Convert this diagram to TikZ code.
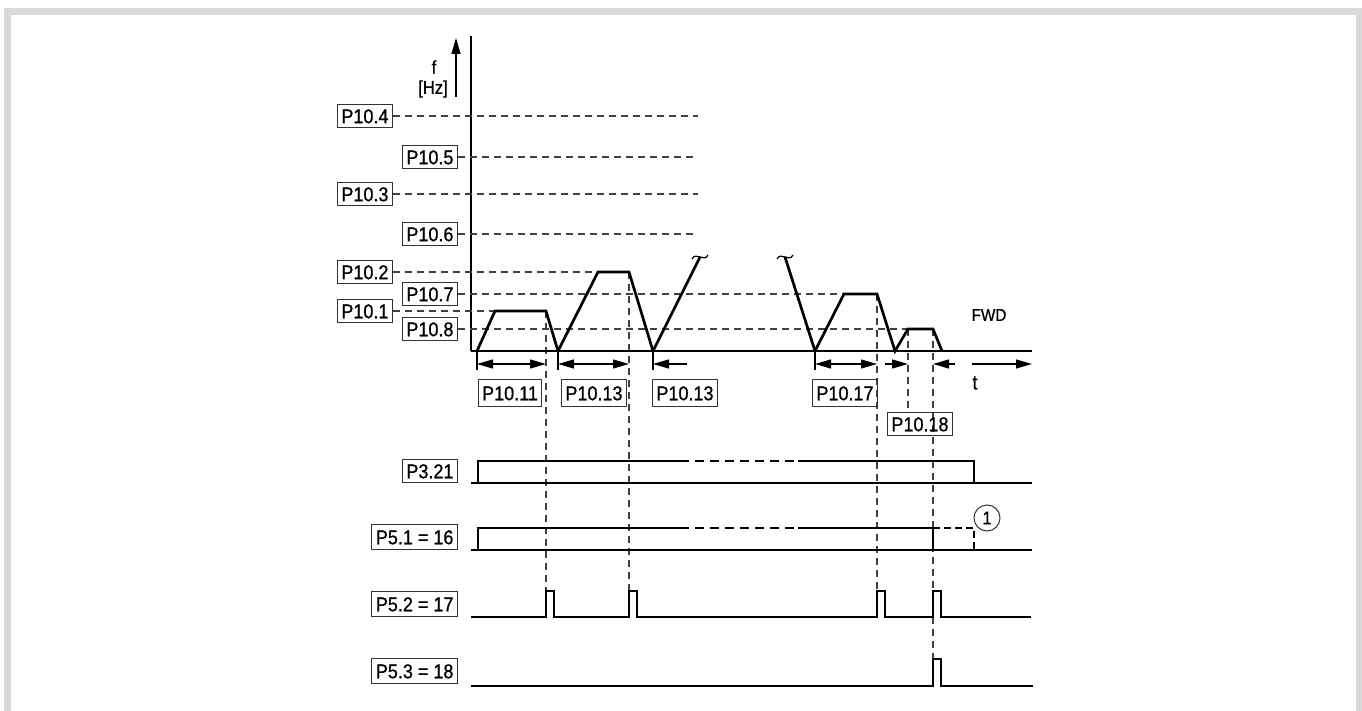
\documentclass[tikz,border=0pt]{standalone}
\usepackage{fontspec}
\setmainfont{Liberation Sans}[FakeStretch=0.9,FakeBold=0.8]
\usetikzlibrary{arrows.meta}
\definecolor{framegray}{HTML}{D9D9D9}
\begin{document}
\begin{tikzpicture}[x=1pt,y=-1pt,
  lbl/.style={draw=black!80, line width=1.1pt, inner xsep=4pt, inner ysep=4.5pt,
    text height=14.5pt, text depth=0pt, font=\fontsize{20}{20}\selectfont},
  tall/.style={inner ysep=6pt},
  mid/.style={inner ysep=5.5pt},
  sig/.style={line width=2.7pt, line join=miter, line cap=butt},
  thinl/.style={line width=1.5pt},
  ref/.style={line width=1.1pt, black!75, dash pattern=on 7pt off 5pt},
  sigdash/.style={line width=2.7pt, dash pattern=on 9pt off 6pt},
  tm/.style={line width=1.3pt},
  tip/.style={-{Triangle[length=16pt,width=9pt]}},
  dtip/.style={{Triangle[length=16pt,width=9pt]}-{Triangle[length=16pt,width=9pt]}},
  plain/.style={font=\fontsize{20}{20}\selectfont, inner sep=0pt}
]
\useasboundingbox (0,0) rectangle (1362,711);
% frame
\fill[framegray] (4,8) rectangle (1362,15);
\fill[framegray] (4,8) rectangle (11,711);
\fill[framegray] (1356,8) rectangle (1362,711);

% axis
\coordinate (axtop) at (471,36);
\coordinate (orig) at (471,351);
\draw[line width=2pt] (axtop) -- (orig);
\coordinate (fa0) at (456,97);
\coordinate (fa1) at (456,38);
\draw[line width=1.3pt, -{Triangle[length=16pt,width=9pt]}] (fa0) -- (fa1);
\node[plain, font=\fontsize{18.5}{18.5}\selectfont] (flab) at (434,67) {f};
\node[plain, font=\fontsize{18.5}{18.5}\selectfont] (hzlab) at (433,89) {[Hz]};

% frequency labels
\node[lbl, anchor=east] (p104) at (393,116) {P10.4};
\node[lbl, anchor=east] (p105) at (458,157) {P10.5};
\node[lbl, anchor=east] (p103) at (393,194) {P10.3};
\node[lbl, anchor=east] (p106) at (458,234) {P10.6};
\node[lbl, anchor=east] (p102) at (393,272) {P10.2};
\node[lbl, anchor=east] (p107) at (458,294) {P10.7};
\node[lbl, anchor=east] (p101) at (393,311) {P10.1};
\node[lbl, anchor=east] (p108) at (458,329) {P10.8};

\coordinate (e104) at (698,116);
\coordinate (e105) at (698,157);
\coordinate (e103) at (698,194);
\coordinate (e106) at (698,234);
\coordinate (e102) at (598,272);
\coordinate (e107) at (844,294);
\coordinate (e101) at (495,311);
\coordinate (e108) at (908,329);
\draw[ref] (p104.east) -- (e104);
\draw[ref] (p105.east) -- (e105);
\draw[ref] (p103.east) -- (e103);
\draw[ref] (p106.east) -- (e106);
\draw[ref] (p102.east) -- (e102);
\draw[ref] (p107.east) -- (e107);
\draw[ref] (p101.east) -- (e101);
\draw[ref] (p108.east) -- (e108);

% vertical reference lines
\draw[ref] (546,311) -- (546,591);
\draw[ref] (629,272) -- (629,591);
\draw[ref] (877,294) -- (877,591);
\draw[ref] (908,329) -- (908,413);
\draw[ref] (933,329) -- (933,659);

% frequency curve
\draw[sig] (orig) -- (1032,351);
\draw[sig] (477,351) -- (495,311) -- (546,311) -- (558,351) -- (598,272) -- (629,272) -- (653,351) -- (700,257);
\draw[sig] (785,257) -- (815,351) -- (844,294) -- (877,294) -- (895,351) -- (908,329) -- (933,329) -- (942,351);
\draw[line width=1.2pt] (692,259) .. controls (696,251) and (704,263) .. (708,255);
\draw[line width=1.2pt] (777,259) .. controls (781,251) and (789,263) .. (793,255);
\node[plain, font=\fontsize{17}{17}\selectfont] (fwd) at (989,315) {FWD};

% time markers
\draw[tm] (477,351) -- (477,370);
\draw[tm] (558,351) -- (558,370);
\draw[tm] (653,351) -- (653,370);
\draw[tm] (815,351) -- (815,370);
\draw[tm, dtip] (477,364) -- (546,364);
\draw[tm, dtip] (558,364) -- (629,364);
\draw[tm, tip] (687,364) -- (653,364);
\draw[tm, dtip] (815,364) -- (877,364);
\draw[tm, tip] (885,364) -- (908,364);
\draw[tm, tip] (955,364) -- (933,364);
\draw[tm, tip] (972,364) -- (1032,364);
\node[plain] (tlab) at (975,383) {t};

\node[lbl, tall] (p1011) at (510,393) {P10.11};
\node[lbl, tall] (p1013a) at (594,393) {P10.13};
\node[lbl, tall] (p1013b) at (685,393) {P10.13};
\node[lbl, tall] (p1017) at (845,393) {P10.17};
\node[lbl, inner ysep=4pt] (p1018) at (920,424) {P10.18};

% P3.21
\node[lbl, anchor=east] (p321) at (458,471) {P3.21};
\draw[sig] (471,483) -- (478,483) -- (478,461) -- (680,461);
\draw[sigdash] (680,461) -- (798,461);
\draw[sig] (798,461) -- (974,461) -- (974,483) -- (1032,483);
\draw[thinl] (478,483) -- (974,483);

% P5.1
\node[lbl, mid, anchor=east] (p51) at (458,537) {P5.1 = 16};
\draw[sig] (471,550) -- (478,550) -- (478,528) -- (680,528);
\draw[sigdash] (680,528) -- (798,528);
\draw[sig] (798,528) -- (933,528) -- (933,550) -- (1032,550);
\draw[thinl] (478,550) -- (933,550);
\draw[line width=2.2pt, dash pattern=on 7pt off 4pt] (933,528) -- (974,528) -- (974,550);
\node[circle, draw=black!80, line width=1pt, minimum size=26pt, inner sep=0pt,
  font=\fontsize{18}{18}\selectfont] (c1) at (987,518) {1};

% P5.2
\node[lbl, mid, anchor=east] (p52) at (458,604) {P5.2 = 17};
\draw[sig] (471,617) -- (546,617) -- (546,591) -- (554,591) -- (554,617)
  -- (629,617) -- (629,591) -- (637,591) -- (637,617)
  -- (877,617) -- (877,591) -- (885,591) -- (885,617)
  -- (933,617) -- (933,591) -- (941,591) -- (941,617) -- (1031,617);

% P5.3
\node[lbl, mid, anchor=east] (p53) at (458,671) {P5.3 = 18};
\draw[sig] (471,686) -- (933,686) -- (933,659) -- (941,659) -- (941,686) -- (1033,686);
\end{tikzpicture}
\end{document}
